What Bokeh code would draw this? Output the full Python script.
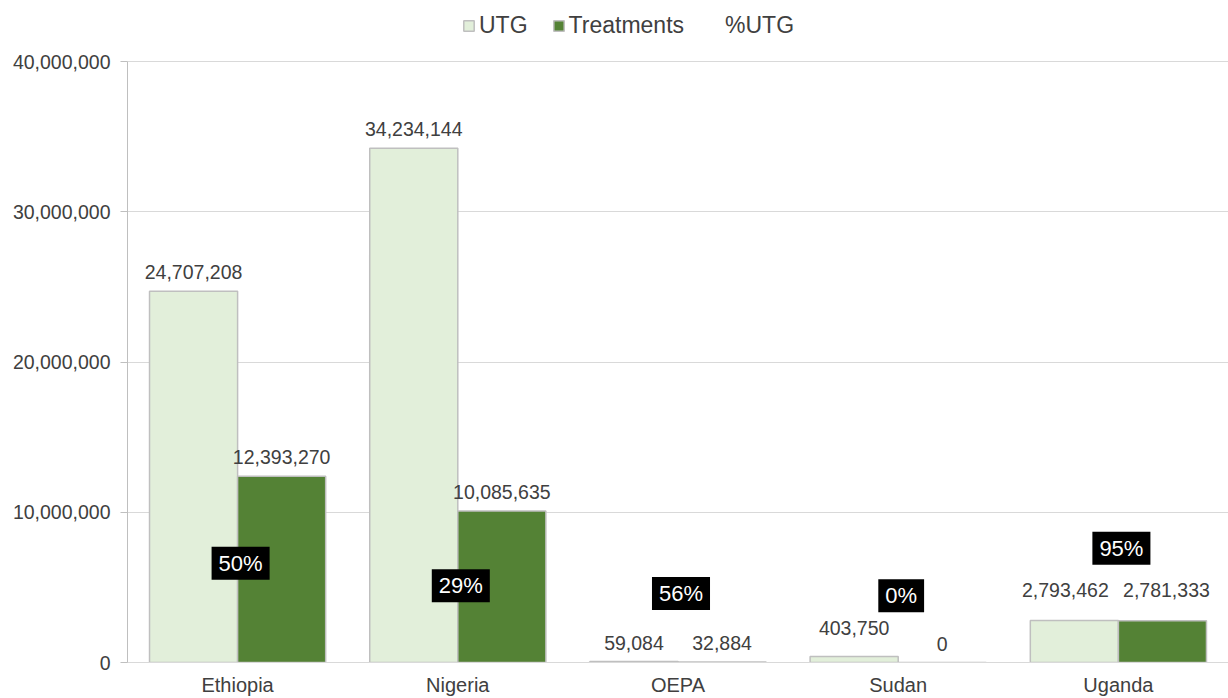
from bokeh.plotting import figure
from bokeh.models import (ColumnDataSource, FactorRange, NumeralTickFormatter, Legend,
                          LegendItem, FixedTicker)
from bokeh.transform import dodge
from bokeh.core.properties import value
from bokeh.embed import file_html
from bokeh.resources import INLINE

# ---- data ----
countries = ["Ethiopia", "Nigeria", "OEPA", "Sudan", "Uganda"]
utg = [24707208, 34234144, 59084, 403750, 2793462]
treatments = [12393270, 10085635, 32884, 0, 2781333]
pct_utg = ["50%", "29%", "56%", "0%", "95%"]
y_ticks = [0, 10_000_000, 20_000_000, 30_000_000, 40_000_000]

# ---- layout-only constants (label anchor heights, extra lift / shift in px) ----
pct_label_anchor = [6.6e6, 5.1e6, 4.6e6, 4.45e6, 7.6e6]
utg_label_lift = [0, 0, 0, 9, 12]
trt_label_lift = [0, 0, 0, 0, 12]
utg_label_shift = [0, 0, 0, 0, -9]
trt_label_shift = [0, 0, 0, 0, 4]

FONT = "Liberation Sans"
UTG_COLOR = "#E2EFDA"
TRT_COLOR = "#548235"
EDGE = "#BFBFBF"
LABEL = "#404040"

W, H = 1228, 698
LEFT, BOTTOM = 127, 36
AXIS_TOP_PX = 61           # pixel row of the 40,000,000 gridline
frame_h = H - BOTTOM
y_max = y_ticks[-1] * frame_h / (frame_h - AXIS_TOP_PX)

fmt = lambda v: f"{v:,}"
src = ColumnDataSource(dict(
    cat=countries, utg=utg, trt=treatments,
    utg_txt=[fmt(v) for v in utg], trt_txt=[fmt(v) for v in treatments],
    utg_off=[-12 - l for l in utg_label_lift], trt_off=[-12 - l for l in trt_label_lift],
    utg_dx=utg_label_shift, trt_dx=trt_label_shift,
    pct=pct_utg, pct_y=pct_label_anchor,
))

p = figure(width=W, height=H, x_range=FactorRange(factors=countries, range_padding=0),
           y_range=(0, y_max), output_backend="svg", toolbar_location=None,
           min_border_left=LEFT, min_border_right=0, min_border_top=0, min_border_bottom=BOTTOM)
p.outline_line_color = None
p.background_fill_color = "white"
p.border_fill_color = "white"

r_utg = p.vbar(x=dodge("cat", -0.2, range=p.x_range), top="utg", width=0.4, source=src,
               fill_color=UTG_COLOR, line_color=EDGE, line_width=1.5)
r_trt = p.vbar(x=dodge("cat", 0.2, range=p.x_range), top="trt", width=0.4, source=src,
               fill_color=TRT_COLOR, line_color=EDGE, line_width=1.5)

p.text(x=dodge("cat", -0.2, range=p.x_range), y="utg", text="utg_txt", source=src,
       x_offset="utg_dx", y_offset="utg_off", text_align="center", text_baseline="bottom",
       text_font=value(FONT), text_font_size="19.5px", text_color=LABEL)
p.text(x=dodge("cat", 0.2, range=p.x_range), y="trt", text="trt_txt", source=src,
       x_offset="trt_dx", y_offset="trt_off", text_align="center", text_baseline="bottom",
       text_font=value(FONT), text_font_size="19.5px", text_color=LABEL)

p.text(x="cat", y="pct_y", text="pct", source=src, text_align="center",
       text_baseline="middle", text_font=value(FONT), text_font_size="22px",
       x_offset=3, text_color="white", background_fill_color="black", padding=(7, 4))

# dummy renderer for the %UTG legend entry (no visible marker)
r_pct = p.scatter(x=[], y=[], size=0, fill_alpha=0, line_alpha=0)

# axes
p.yaxis.ticker = FixedTicker(ticks=y_ticks)
p.yaxis.bounds = (y_ticks[0], y_ticks[-1])
p.yaxis.formatter = NumeralTickFormatter(format="0,0")
for ax in (p.xaxis, p.yaxis):
    ax.axis_line_color = EDGE
    ax.major_label_text_font = FONT
    ax.major_label_text_color = LABEL
    ax.minor_tick_line_color = None
p.yaxis.major_label_text_font_size = "19.5px"
p.xaxis.major_label_text_font_size = "20px"
p.yaxis.major_tick_line_color = EDGE
p.yaxis.major_tick_out = 7
p.yaxis.major_tick_in = 0
p.yaxis.major_label_standoff = 10
p.xaxis.major_tick_line_color = None
p.xaxis.major_label_standoff = 5
p.xaxis.axis_line_color = "#D9D9D9"

p.xgrid.grid_line_color = None
p.ygrid.grid_line_color = "#D9D9D9"
p.ygrid.grid_line_width = 1

legend = Legend(items=[LegendItem(label="UTG", renderers=[r_utg]),
                       LegendItem(label="Treatments", renderers=[r_trt]),
                       LegendItem(label="%UTG", renderers=[r_pct])],
                orientation="horizontal", location=(335, 623),
                label_text_font=FONT, label_text_font_size="23px", label_text_color=LABEL,
                glyph_width=13, glyph_height=13, label_standoff=4, spacing=24,
                padding=0, margin=0, border_line_color=None, background_fill_alpha=0)
p.add_layout(legend, "center")

open("out.html", "w").write(file_html(p, INLINE))
